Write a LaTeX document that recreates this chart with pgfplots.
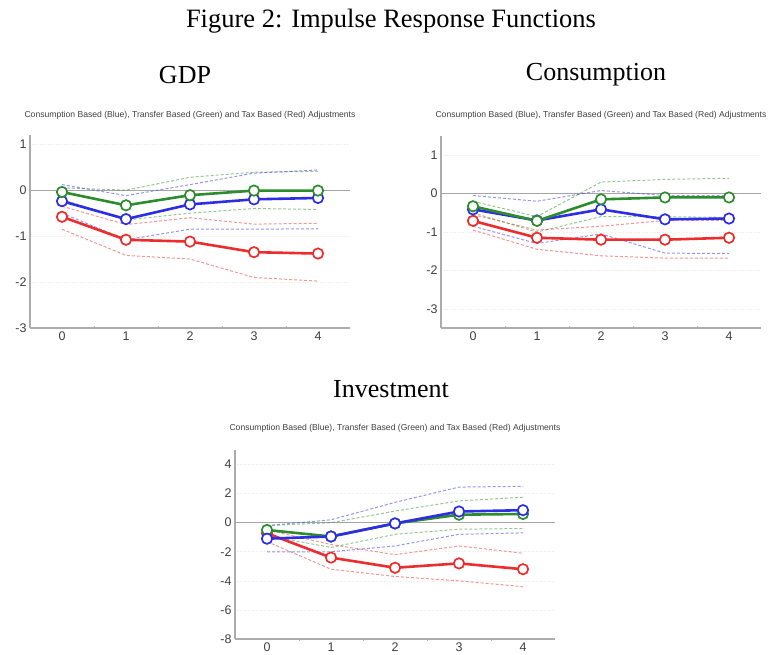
\documentclass[border=0pt]{standalone}
\usepackage{pgfplots}
\pgfplotsset{compat=1.18}
\usepackage{fontspec}
\setmainfont{Liberation Serif}
\newfontfamily\arial{Liberation Sans}
\definecolor{cg}{RGB}{45,140,45}
\definecolor{cb}{RGB}{45,45,230}
\definecolor{cr}{RGB}{235,45,45}
\pgfplotsset{
  irf/.style={
    scale only axis, width=320pt, anchor=south west,
    xmin=-0.5, xmax=4.5, xtick={0,1,2,3,4},
    minor xtick={0.5,1.5,2.5,3.5},
    major tick length=0pt, minor tick length=3pt,
    minor tick style={gray!60, line width=0.6pt},
    axis x line=bottom, axis y line=left,
    axis line style={gray!65, line width=1.2pt, -},
    ymajorgrids, grid style={gray!12, line width=0.6pt, densely dotted},
    /pgf/number format/assume math mode=true,
    tick label style={font=\arial\fontsize{12.5}{12.5}\selectfont, text=black!75},
    clip=false,
  },
  ml/.style={line width=2.6pt, mark=*, mark size=5.2pt, mark options={solid, fill=white, line width=1.7pt}},
  band/.style={dash pattern=on 3pt off 2pt, line width=1pt, opacity=0.5},
}
\newcommand{\capt}{\arial\fontsize{8.6}{9}\selectfont}
\begin{document}
\begin{tikzpicture}
\useasboundingbox (0pt,0pt) rectangle (770pt,654pt);
\clip (0pt,0pt) rectangle (770pt,654pt);
\node[font=\fontsize{26.5}{28}\selectfont] at (391pt,633pt) {Figure 2: Impulse Response Functions};
\node[font=\fontsize{26}{28}\selectfont] at (185pt,579pt) {GDP};
\node[font=\fontsize{26}{28}\selectfont] at (596pt,579pt) {Consumption};
\node[font=\fontsize{26}{28}\selectfont] at (391pt,265pt) {Investment};
\node[font=\capt, text=black!75] at (190pt,539pt) {Consumption Based (Blue), Transfer Based (Green) and Tax Based (Red) Adjustments};
\node[font=\capt, text=black!75] at (601pt,539pt) {Consumption Based (Blue), Transfer Based (Green) and Tax Based (Red) Adjustments};
\node[font=\capt, text=black!75] at (395pt,226pt) {Consumption Based (Blue), Transfer Based (Green) and Tax Based (Red) Adjustments};

% GDP
\begin{axis}[irf, at={(30pt,326pt)}, height=193pt, ymin=-3, ymax=1.2, ytick={-3,-2,-1,0,1}]
\addplot[gray!70, line width=1.2pt] coordinates {(-0.5,0) (4.5,0)};
\addplot[band, cg] coordinates {(0,0.05) (1,0.0) (2,0.28) (3,0.39) (4,0.41)};
\addplot[band, cg] coordinates {(0,-0.2) (1,-0.65) (2,-0.5) (3,-0.4) (4,-0.42)};
\addplot[band, cb] coordinates {(0,0.12) (1,-0.12) (2,0.12) (3,0.37) (4,0.44)};
\addplot[band, cb] coordinates {(0,-0.5) (1,-1.08) (2,-0.85) (3,-0.85) (4,-0.84)};
\addplot[band, cr] coordinates {(0,-0.35) (1,-0.75) (2,-0.6) (3,-0.74) (4,-0.72)};
\addplot[band, cr] coordinates {(0,-0.85) (1,-1.42) (2,-1.5) (3,-1.9) (4,-1.98)};
\addplot[ml, cr] coordinates {(0,-0.58) (1,-1.08) (2,-1.12) (3,-1.35) (4,-1.38)};
\addplot[ml, cb] coordinates {(0,-0.24) (1,-0.63) (2,-0.31) (3,-0.2) (4,-0.17)};
\addplot[ml, cg] coordinates {(0,-0.04) (1,-0.33) (2,-0.11) (3,-0.01) (4,-0.01)};
\end{axis}

% Consumption
\begin{axis}[irf, at={(441pt,326pt)}, height=192pt, ymin=-3.5, ymax=1.5, ytick={-3,-2,-1,0,1}]
\addplot[gray!70, line width=1.2pt] coordinates {(-0.5,0) (4.5,0)};
\addplot[band, cg] coordinates {(0,-0.2) (1,-0.6) (2,0.3) (3,0.37) (4,0.4)};
\addplot[band, cg] coordinates {(0,-0.5) (1,-1.0) (2,-0.6) (3,-0.6) (4,-0.62)};
\addplot[band, cb] coordinates {(0,-0.05) (1,-0.2) (2,0.08) (3,-0.05) (4,-0.05)};
\addplot[band, cb] coordinates {(0,-0.85) (1,-1.3) (2,-1.05) (3,-1.55) (4,-1.56)};
\addplot[band, cr] coordinates {(0,-0.55) (1,-0.95) (2,-0.85) (3,-0.7) (4,-0.7)};
\addplot[band, cr] coordinates {(0,-0.95) (1,-1.45) (2,-1.62) (3,-1.68) (4,-1.68)};
\addplot[ml, cr] coordinates {(0,-0.71) (1,-1.15) (2,-1.2) (3,-1.2) (4,-1.15)};
\addplot[ml, cb] coordinates {(0,-0.41) (1,-0.7) (2,-0.41) (3,-0.67) (4,-0.65)};
\addplot[ml, cg] coordinates {(0,-0.33) (1,-0.71) (2,-0.15) (3,-0.1) (4,-0.1)};
\end{axis}

% Investment
\begin{axis}[irf, at={(235pt,15pt)}, height=189pt, ymin=-8, ymax=5, ytick={-8,-6,-4,-2,0,2,4}]
\addplot[gray!70, line width=1.2pt] coordinates {(-0.5,0) (4.5,0)};
\addplot[band, cb] coordinates {(0,-0.2) (1,0.2) (2,1.4) (3,2.45) (4,2.5)};
\addplot[band, cg] coordinates {(0,-0.2) (1,0.0) (2,0.8) (3,1.5) (4,1.75)};
\addplot[band, cg] coordinates {(0,-0.9) (1,-1.7) (2,-0.8) (3,-0.45) (4,-0.4)};
\addplot[band, cb] coordinates {(0,-2.0) (1,-2.0) (2,-1.6) (3,-0.8) (4,-0.7)};
\addplot[band, cr] coordinates {(0,-0.5) (1,-1.5) (2,-2.2) (3,-1.6) (4,-2.1)};
\addplot[band, cr] coordinates {(0,-1.3) (1,-3.2) (2,-3.7) (3,-4.0) (4,-4.4)};
\addplot[ml, cr] coordinates {(0,-0.73) (1,-2.4) (2,-3.1) (3,-2.8) (4,-3.2)};
\addplot[ml, cg] coordinates {(0,-0.5) (1,-0.95) (2,-0.05) (3,0.55) (4,0.6)};
\addplot[ml, cb] coordinates {(0,-1.1) (1,-0.95) (2,-0.05) (3,0.77) (4,0.86)};
\end{axis}
\end{tikzpicture}
\end{document}
